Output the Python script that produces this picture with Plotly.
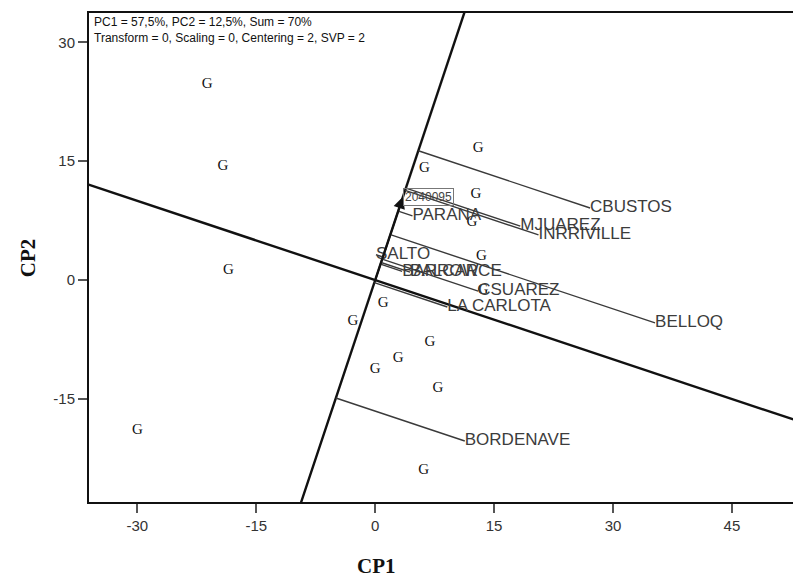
import numpy as np
import plotly.graph_objects as go

# Genotype scores (PC1, PC2), shown as "G"
g_x = [-21.2, -19.2, -18.5, -30.0, 13.0, 6.2, 12.7, 12.2, 13.4, 13.6, 1.0, 6.9, -2.8, 2.9, 0.0, 7.9, 6.1]
g_y = [24.7, 14.4, 1.3, -19.0, 16.6, 14.1, 10.8, 7.3, 3.0, -1.3, -2.9, -7.9, -5.2, -9.8, -11.3, -13.7, -24.0]

# Examined genotype
focus_name = "2040095"
focus_x, focus_y = 3.5, 10.5

# Environment scores
env_names = ["CBUSTOS", "MJUAREZ", "INRRIVILLE", "PARANA", "SALTO", "BARROW",
             "BALCARCE", "CSUAREZ", "LA CARLOTA", "BELLOQ", "BORDENAVE"]
env_x = [27.1, 18.3, 20.6, 4.7, 0.1, 3.4, 4.4, 13.0, 9.1, 35.3, 11.3]
env_y = [9.1, 6.8, 5.7, 8.1, 3.2, 1.1, 1.0, -1.4, -3.4, -5.4, -20.3]

header = ["PC1 = 57,5%, PC2 = 12,5%, Sum = 70%",
          "Transform = 0, Scaling = 0, Centering = 2, SVP = 2"]

x_ticks = [-30, -15, 0, 15, 30, 45]
y_ticks = [-15, 0, 15, 30]
x_range = [-36.1, 52.7]
y_range = [-28.0, 33.7]

# Axis through the examined genotype and its perpendicular through the origin
u = np.array([focus_x, focus_y]) / np.hypot(focus_x, focus_y)
v = np.array([u[1], -u[0]])
t = np.array([-200.0, 200.0])

fig = go.Figure()

fig.add_trace(go.Scatter(x=t * u[0], y=t * u[1], mode="lines",
                         line=dict(color="#111", width=2.4), hoverinfo="skip"))
fig.add_trace(go.Scatter(x=t * v[0], y=t * v[1], mode="lines",
                         line=dict(color="#111", width=2.4), hoverinfo="skip"))

# Projections of each environment onto the genotype axis
ex = np.array(env_x)
ey = np.array(env_y)
proj = ex * u[0] + ey * u[1]
px = proj * u[0]
py = proj * u[1]
lx, ly = [], []
for a, b, c, d in zip(ex, ey, px, py):
    lx += [a, c, None]
    ly += [b, d, None]
fig.add_trace(go.Scatter(x=lx, y=ly, mode="lines",
                         line=dict(color="#3a3a3a", width=1.4), hoverinfo="skip"))

fig.add_trace(go.Scatter(x=g_x, y=g_y, mode="text", text=["G"] * len(g_x),
                         textfont=dict(family="Liberation Serif", size=15, color="#111"),
                         hoverinfo="skip"))

fig.add_trace(go.Scatter(x=env_x, y=env_y, mode="text", text=env_names,
                         textposition="middle right",
                         textfont=dict(family="Liberation Sans", size=17, color="#3c3c3c"),
                         hoverinfo="skip"))

annotations = [
    dict(x=focus_x, y=focus_y, ax=0, ay=0, xref="x", yref="y", axref="x", ayref="y",
         text="", showarrow=True, arrowhead=2, arrowsize=1.3, arrowwidth=1.8,
         arrowcolor="#111"),
    dict(x=focus_x, y=focus_y, xref="x", yref="y", text=focus_name, showarrow=False,
         xanchor="left", yanchor="middle",
         font=dict(family="Liberation Sans", size=12, color="#444"),
         bordercolor="#777", borderwidth=1, borderpad=1),
    dict(x=0.004, y=1.0, xref="paper", yref="paper", xanchor="left", yanchor="top",
         align="left", showarrow=False, text="<br>".join(header),
         font=dict(family="Liberation Sans", size=12, color="#111")),
    dict(x=0.408, y=-0.131, xref="paper", yref="paper", xanchor="center", yanchor="middle",
         text="<b>CP1</b>", showarrow=False,
         font=dict(family="Liberation Serif", size=21, color="#111")),
    dict(x=-0.087, y=0.5, xref="paper", yref="paper", xanchor="center", yanchor="middle",
         text="<b>CP2</b>", textangle=-90, showarrow=False,
         font=dict(family="Liberation Serif", size=21, color="#111")),
]

fig.update_layout(
    width=793, height=581,
    margin=dict(l=89, r=0, t=13, b=79),
    paper_bgcolor="white", plot_bgcolor="white",
    showlegend=False,
    annotations=annotations,
    xaxis=dict(range=x_range, tickvals=x_ticks, ticktext=[str(v_) for v_ in x_ticks],
               showgrid=False, zeroline=False, showline=True, linecolor="#111",
               linewidth=2, mirror=True, ticks="outside", ticklen=9, tickwidth=1.5,
               tickcolor="#555",
               tickfont=dict(family="Liberation Sans", size=15, color="#333")),
    yaxis=dict(range=y_range, tickvals=y_ticks, ticktext=[str(v_) for v_ in y_ticks],
               showgrid=False, zeroline=False, showline=True, linecolor="#111",
               linewidth=2, mirror=False, ticks="outside", ticklen=9, tickwidth=1.5,
               tickcolor="#555",
               tickfont=dict(family="Liberation Sans", size=15, color="#333")),
)

fig.write_html("out.html")
